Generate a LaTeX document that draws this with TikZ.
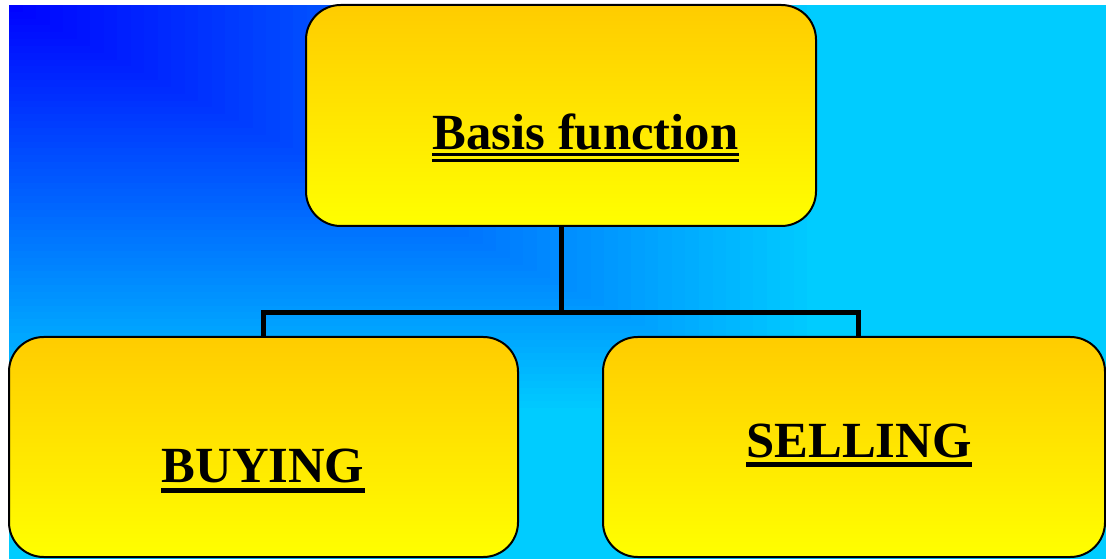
\documentclass[tikz,border=0pt]{standalone}
\usepackage{fontspec}
\setmainfont{Liberation Serif}
\usetikzlibrary{calc}
\definecolor{bgblue}{RGB}{0,0,255}
\definecolor{bgcyan}{RGB}{0,204,255}
\definecolor{boxtop}{RGB}{255,204,0}
\definecolor{boxbot}{RGB}{255,255,0}
\begin{document}
\begin{tikzpicture}[x=0.75pt,y=-0.75pt,
  box/.style={draw=black, line width=1.5pt, rounded corners=26pt, top color=boxtop, bottom color=boxbot, inner sep=0pt},
  conn/.style={draw=black, line width=3.75pt},
  lbl/.style={font=\fontsize{38}{40}\selectfont\bfseries, inner sep=0pt, anchor=base},
  thinul/.style={draw=black, line width=2pt},
  thickul/.style={draw=black, line width=3.75pt}]
\useasboundingbox (0,0) rectangle (1106,559);
\fill[white] (0,0) rectangle (1106,559);
\fill[bgcyan] (9,5) rectangle (1106,559);
\foreach \i in {0,...,59}{
  \pgfmathsetmacro\gs{0.74*(1-\i/60)}
  \pgfmathsetmacro\gp{min(100,135*\gs)}
  \fill[bgcyan!\gp!bgblue] (9,5) rectangle ({9+1097*\gs},{5+554*\gs});
}
% boxes
\node[box, minimum width=382.5pt, minimum height=165.75pt] (top) at (561,115.5) {};
\node[box, minimum width=381.75pt, minimum height=165pt] (buy) at (263.5,447) {};
\node[box, minimum width=376.5pt, minimum height=165pt] (sell) at (854,447) {};
% connectors
\coordinate (j) at (561,313);
\draw[conn] (top.south) -- (j);
\draw[conn] (buy.north) |- (j);
\draw[conn] (j) -| ([xshift=3pt]sell.north);
% labels
\node[lbl] (tTop) at (585.5,150) {Basis function};
\node[lbl] (tBuy) at (263,482) {BUYING};
\node[lbl] (tSell) at (859,457) {SELLING};
% underlines
\draw[thinul] ($(tTop.base west)+(0,4.5)$) -- ($(tTop.base east)+(0,4.5)$);
\draw[thinul] ($(tTop.base west)+(0,10.7)$) -- ($(tTop.base east)+(0,10.7)$);
\draw[thickul] ($(tBuy.base west)+(0,8.5)$) -- ($(tBuy.base east)+(0,8.5)$);
\draw[thickul] ($(tSell.base west)+(0,7)$) -- ($(tSell.base east)+(0,7)$);
\end{tikzpicture}
\end{document}
